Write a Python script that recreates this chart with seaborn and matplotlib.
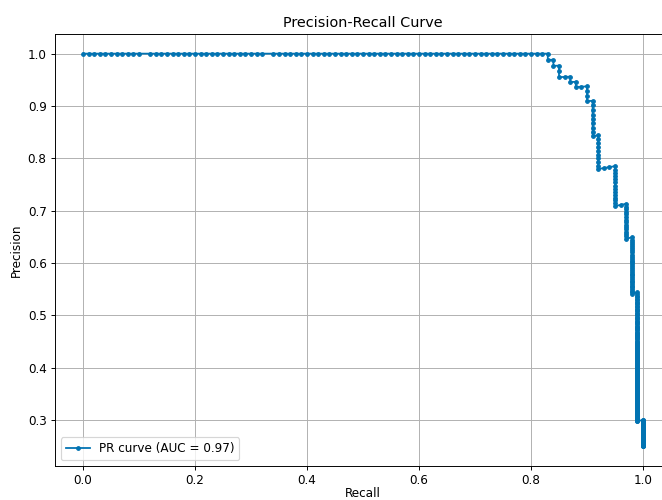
import numpy as np
import matplotlib
matplotlib.use('Agg')
import matplotlib.pyplot as plt
import seaborn as sns

# ── Data ──────────────────────────────────────────────────────────────────────
# descending-score runs of hits / false alarms
POS_RUNS    = [83, 1, 1, 2, 1, 2, 1, 1, 3, 2, 1, 1, 1]
NEG_RUNS    = [1, 1, 2, 1, 1, 3, 8, 9, 13, 14, 30, 150, 67]
TIED_HITS   = [11, 33]          # hit counts that share a score with the next hit
AUC         = 0.97

TITLE       = "Precision-Recall Curve"
X_LABEL     = "Recall"
Y_LABEL     = "Precision"

# ── Curve ─────────────────────────────────────────────────────────────────────
labels = []
for p, n in zip(POS_RUNS, NEG_RUNS):
    labels += [1] * p + [0] * n
labels = np.array(labels)

tp   = np.cumsum(labels)
fp   = np.cumsum(1 - labels)
keep = ~((labels == 1) & np.isin(tp, TIED_HITS))

n_pos     = labels.sum()
recall    = np.r_[0.0, tp[keep] / n_pos]
precision = np.r_[1.0, tp[keep] / (tp[keep] + fp[keep])]

# ── Plot ──────────────────────────────────────────────────────────────────────
DPI   = 86
color = sns.color_palette("colorblind")[0]

fig = plt.figure(figsize=(662 / DPI, 500 / DPI), dpi=DPI)
ax  = fig.add_axes([55 / 662, 34 / 500, 616 / 662, 432 / 500])

sns.lineplot(
    x               = recall,
    y               = precision,
    sort            = False,
    estimator       = None,
    marker          = ".",
    markersize      = 6,
    markeredgecolor = color,
    markeredgewidth = 1,
    linewidth       = 1.5,
    color           = color,
    label           = f"PR curve (AUC = {AUC:.2f})",
    ax              = ax,
)

ax.set_title(TITLE, fontsize=12)
ax.set_xlabel(X_LABEL, fontsize=10, labelpad=0)
ax.set_ylabel(Y_LABEL, fontsize=10)
ax.grid(True)
ax.legend(loc="lower left")

fig.savefig("out.png", dpi=DPI)
plt.close(fig)
